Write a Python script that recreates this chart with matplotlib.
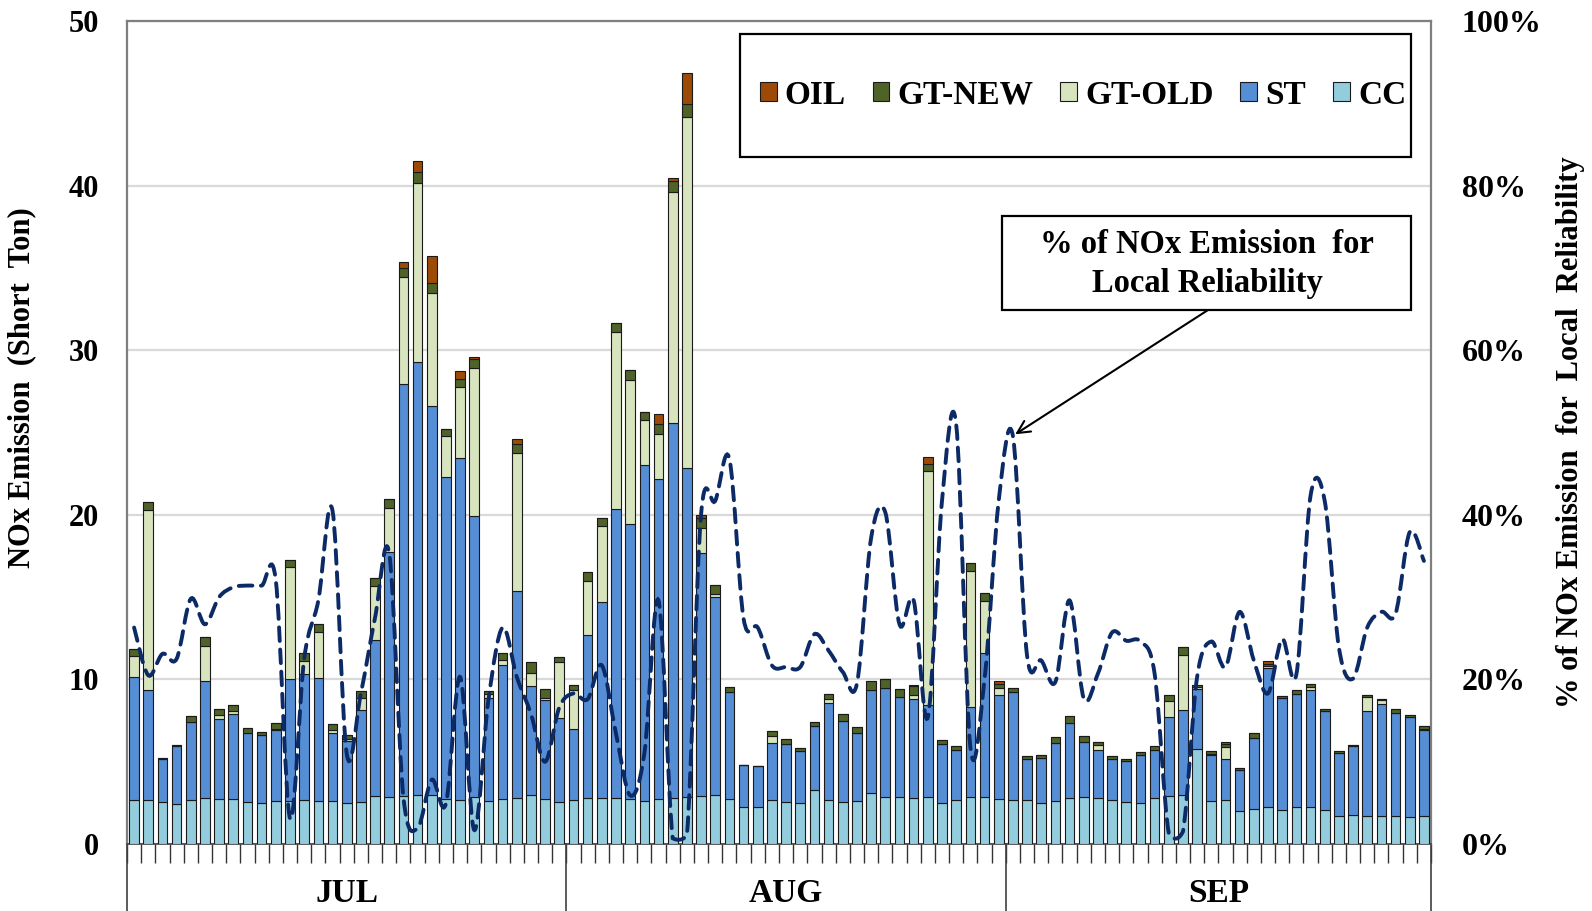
import numpy as np
import matplotlib
matplotlib.use("Agg")
import matplotlib.pyplot as plt
from matplotlib.path import Path
from matplotlib.patches import PathPatch, Rectangle
import matplotlib.ticker as ticker

plt.rcParams['font.family'] = ['Liberation Serif', 'DejaVu Serif']
plt.rcParams['font.weight'] = 'bold'

# daily NOx emission by unit type (short tons), Jul 1 .. Sep 30
cc = [2.67, 2.67, 2.53, 2.4, 2.67, 2.81, 2.75, 2.75, 2.53, 2.47, 2.61, 2.61, 2.67, 2.61, 2.61, 2.47,
      2.53, 2.93, 2.83, 2.93, 3.0, 3.0, 2.75, 2.67, 2.87, 2.61, 2.75, 2.81, 3.0, 2.75, 2.53,
      2.67, 2.81, 2.81, 2.81, 2.75, 2.61, 2.75, 2.81, 2.87, 2.93, 3.0, 2.75, 2.22, 2.26, 2.67, 2.53,
      2.47, 3.31, 2.67, 2.53, 2.61, 3.07, 2.87, 2.87, 2.81, 2.87, 2.47, 2.67, 2.87, 2.87, 2.75,
      2.67, 2.67, 2.47, 2.61, 2.81, 2.87, 2.81, 2.67, 2.53, 2.47, 2.81, 2.93, 3.0, 5.8, 2.61,
      2.67, 2.0, 2.12, 2.22, 2.06, 2.22, 2.22, 2.06, 1.7, 1.76, 1.7, 1.7, 1.7, 1.62, 1.7]
st = [7.47, 6.66, 2.66, 3.54, 4.74, 7.07, 4.86, 5.17, 4.24, 4.14, 4.30, 7.41, 7.67, 7.47, 4.16, 3.81,
      5.63, 9.47, 14.93, 25.03, 26.27, 23.6, 19.55, 20.8, 17.07, 6.26, 8.14, 12.58, 6.6, 5.98, 5.15,
      4.34, 9.86, 11.92, 17.53, 16.72, 20.39, 19.45, 22.79, 20.0, 14.75, 12.03, 6.48, 2.55, 2.45, 3.47,
      3.53, 3.19, 3.84, 5.92, 4.94, 4.16, 6.26, 6.62, 6.06, 5.98, 5.55, 3.63, 3.03, 5.45, 8.73, 6.32,
      6.56, 2.52, 2.78, 3.53, 4.54, 3.33, 2.93, 2.52, 2.52, 2.92, 2.93, 4.79, 5.12, 3.6, 2.78,
      2.52, 2.52, 4.34, 8.47, 6.81, 6.91, 7.11, 6.02, 3.84, 4.18, 6.36, 6.83, 6.28, 6.1, 5.21]
gt_old = [1.26, 10.95, 0, 0, 0, 2.14, 0.21, 0.14, 0, 0, 0.10, 6.79, 0.75, 2.79, 0.14, 0.10,
          0.71, 3.26, 2.66, 6.46, 10.91, 6.85, 2.49, 4.29, 8.99, 0.26, 0.31, 8.35, 0.8, 0.14, 3.39,
          2.32, 3.33, 4.56, 10.77, 8.69, 2.74, 2.69, 14.04, 21.31, 1.49, 0.16, 0, 0, 0, 0.41,
          0, 0, 0, 0.2, 0, 0, 0, 0, 0, 0.28, 14.25, 0, 0, 8.28, 3.19, 0.4,
          0, 0, 0, 0, 0, 0, 0.3, 0, 0, 0, 0, 0.95, 3.38, 0.14, 0.1,
          0.71, 0, 0, 0.11, 0, 0, 0.21, 0, 0, 0, 0.87, 0.2, 0, 0, 0.1]
gt_new = [0.46, 0.47, 0.06, 0.06, 0.37, 0.57, 0.40, 0.38, 0.26, 0.20, 0.34, 0.46, 0.53, 0.50, 0.40, 0.27,
          0.40, 0.52, 0.53, 0.57, 0.67, 0.61, 0.44, 0.46, 0.55, 0.14, 0.42, 0.54, 0.65, 0.52, 0.28,
          0.31, 0.5, 0.51, 0.57, 0.61, 0.52, 0.61, 0.64, 0.77, 0.61, 0.55, 0.31, 0, 0, 0.32,
          0.34, 0.19, 0.26, 0.34, 0.43, 0.32, 0.55, 0.51, 0.48, 0.53, 0.40, 0.24, 0.26, 0.47, 0.44, 0.27,
          0.24, 0.14, 0.14, 0.36, 0.43, 0.35, 0.16, 0.14, 0.14, 0.21, 0.2, 0.4, 0.46, 0.14, 0.17,
          0.2, 0.12, 0.31, 0.15, 0.13, 0.2, 0.2, 0.1, 0.1, 0.1, 0.14, 0.08, 0.2, 0.14, 0.16]
oil = [0, 0, 0, 0, 0, 0, 0, 0, 0, 0, 0, 0, 0, 0, 0, 0,
       0, 0, 0, 0.36, 0.62, 1.64, 0, 0.51, 0.1, 0, 0, 0.35, 0, 0, 0,
       0, 0, 0, 0, 0, 0, 0.64, 0.16, 1.9, 0.2, 0, 0, 0, 0, 0,
       0, 0, 0, 0, 0, 0, 0, 0.05, 0, 0.05, 0.47, 0, 0, 0, 0, 0.14,
       0, 0, 0, 0, 0, 0, 0, 0, 0, 0, 0, 0, 0, 0, 0,
       0.1, 0, 0, 0.15, 0, 0, 0, 0, 0, 0, 0, 0, 0, 0, 0]

# % of NOx emission for local reliability
pct = [26.3, 20.5, 23.1, 22.5, 29.8, 26.7, 30.0, 31.2, 31.4, 31.4, 32.0, 3.1, 22.5, 29.6, 40.5, 11.0,
       18.3, 27.5, 35.3, 5.7, 1.9, 7.8, 4.9, 20.3, 1.7, 17.5, 26.3, 20.3, 15.8, 10.0, 16.6,
       18.3, 17.6, 21.7, 13.4, 5.9, 11.0, 29.6, 0.7, 1.0, 40.0, 41.7, 46.8, 27.4, 26.3, 21.7,
       21.5, 21.5, 25.5, 23.5, 20.9, 19.5, 37.2, 40.3, 26.7, 29.6, 15.4, 41.7, 51.0, 11.8, 20.0, 41.7,
       49.6, 22.9, 22.3, 19.7, 29.6, 17.7, 20.7, 25.7, 24.7, 24.6, 20.7, 1.3, 1.5, 20.3, 24.6,
       21.5, 28.2, 22.3, 18.3, 24.9, 20.6, 42.3, 41.7, 23.9, 20.1, 26.3, 28.2, 28.0, 37.9, 34.4]

months = ['JUL', 'AUG', 'SEP']
month_days = [31, 31, 30]

series = [('CC', cc, '#93CDDD'), ('ST', st, '#558ED5'), ('GT-OLD', gt_old, '#D7E4BD'),
          ('GT-NEW', gt_new, '#4F6228'), ('OIL', oil, '#9C4A06')]

n = len(cc)
x = np.arange(n)

fig = plt.figure(figsize=(15.92, 9.11), dpi=100)
ax = fig.add_axes([127 / 1592, 1 - 844 / 911, (1431 - 127) / 1592, (844 - 21) / 911])

bottom = np.zeros(n)
handles = {}
for name, vals, col in series:
    vals = np.array(vals)
    b = ax.bar(x, vals, 0.68, bottom=bottom, color=col, edgecolor='#1a1a1a', linewidth=0.8, zorder=3)
    handles[name] = b
    bottom += vals

ax.set_xlim(-0.5, n - 0.5)
ax.set_ylim(0, 50)
ax.set_yticks(range(0, 51, 10))
ax.yaxis.grid(True, color='#D9D9D9', linewidth=1.6, zorder=0)
ax.set_axisbelow(True)
ax.tick_params(axis='y', length=0, pad=20, labelsize=22)
ax.set_xticks(np.arange(-0.5, n, 1.0))
ax.set_xticklabels([])
ax.tick_params(axis='x', length=14, width=1.0, color='#333333', direction='out')
for s in ['left', 'top', 'right']:
    ax.spines[s].set_color('#7f7f7f')
    ax.spines[s].set_linewidth(1.6)
ax.spines['bottom'].set_color('#404040')
ax.spines['bottom'].set_linewidth(1.2)
ax.set_ylabel('NOx Emission  (Short  Ton)', fontsize=22, fontweight='bold')
ax.yaxis.set_label_coords(-0.07, 0.555)

# month dividers and labels below the axis
start = -0.5
for m, d in zip(months, month_days):
    ax.plot([start, start], [0, -0.1], transform=ax.get_xaxis_transform(), color='#404040',
            linewidth=1.2, clip_on=False)
    ax.text(start + d / 2, -0.06, m, transform=ax.get_xaxis_transform(), ha='center', va='center',
            fontsize=24, fontweight='bold')
    start += d
ax.plot([start, start], [0, -0.1], transform=ax.get_xaxis_transform(), color='#404040',
        linewidth=1.2, clip_on=False)

# right axis: smoothed dashed percentage line
ax2 = ax.twinx()
ax2.set_ylim(0, 1)
ax2.set_yticks(np.arange(0, 1.01, 0.2))
ax2.yaxis.set_major_formatter(ticker.FuncFormatter(lambda v, p: '%d%%' % round(v * 100)))
ax2.tick_params(axis='y', length=0, pad=22, labelsize=23)
for s in ['left', 'top', 'right', 'bottom']:
    ax2.spines[s].set_visible(False)
ax2.set_ylabel('% of NOx Emission  for  Local  Reliability', fontsize=22, fontweight='bold')
ax2.yaxis.set_label_coords(1.096, 0.5)

py = np.array(pct) / 100.0
verts = [(x[0], py[0])]
codes = [Path.MOVETO]
for i in range(n - 1):
    xp, yp = (x[i - 1], py[i - 1]) if i > 0 else (x[i], py[i])
    xn, yn = (x[i + 2], py[i + 2]) if i + 2 < n else (x[i + 1], py[i + 1])
    c1 = (x[i] + (x[i + 1] - xp) / 6.0, max(py[i] + (py[i + 1] - yp) / 6.0, 0.004))
    c2 = (x[i + 1] - (xn - x[i]) / 6.0, max(py[i + 1] - (yn - py[i]) / 6.0, 0.004))
    verts += [c1, c2, (x[i + 1], py[i + 1])]
    codes += [Path.CURVE4] * 3
line = PathPatch(Path(verts, codes), fill=False, edgecolor='#0B2A66', linewidth=2.8,
                 linestyle=(0, (3.5, 2.2)), capstyle='round', zorder=5)
ax2.add_patch(line)

# legend in a framed box
fig.patches.append(Rectangle((740 / 1592, 1 - 157 / 911), (1411 - 740) / 1592, (157 - 33.5) / 911,
                             transform=fig.transFigure, fill=True, facecolor='white',
                             edgecolor='black', linewidth=1.6, zorder=10))
order = ['OIL', 'GT-NEW', 'GT-OLD', 'ST', 'CC']
leg = fig.legend([handles[k] for k in order], order, loc='center',
                 bbox_to_anchor=(1083 / 1592, 1 - 95 / 911),
                 ncol=5, frameon=False, fontsize=24, handlelength=0.5, handleheight=0.5,
                 handletextpad=0.25, columnspacing=0.8, borderpad=0.0)
leg.set_zorder(11)

# annotation box with arrow
fig.patches.append(Rectangle((1002 / 1592, 1 - 310 / 911), (1411 - 1002) / 1592, (310 - 216) / 911,
                             transform=fig.transFigure, facecolor='white', edgecolor='black',
                             linewidth=1.6, zorder=10))
fig.text(1207 / 1592, 1 - 264 / 911, '% of NOx Emission  for\nLocal Reliability', ha='center', va='center',
         fontsize=23.5, fontweight='bold', linespacing=1.35, zorder=12)
ax2.annotate('', xy=(62, py[62]), xycoords='data', xytext=(1208 / 1592, 1 - 310 / 911),
             textcoords='figure fraction',
             arrowprops=dict(arrowstyle='->,head_length=0.9,head_width=0.45', color='black', lw=1.5,
                             shrinkA=0, shrinkB=2))

fig.savefig('out.png', dpi=100)
